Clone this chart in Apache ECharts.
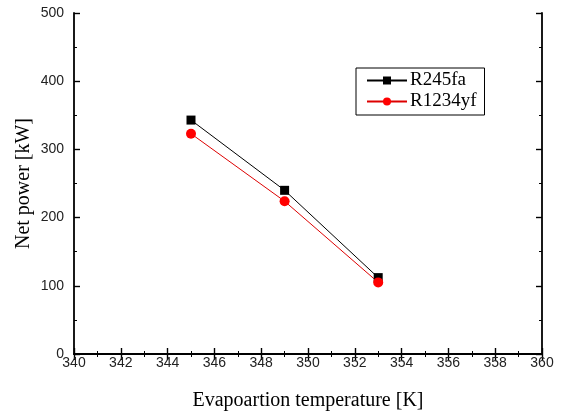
<!DOCTYPE html>
<html><head><meta charset="utf-8">
<script src="https://cdn.jsdelivr.net/npm/echarts@6/dist/echarts.min.js"></script>
<style>html,body{margin:0;padding:0;background:#fff}#c{width:562px;height:414px}</style>
</head><body><div id="c"></div>
<script>
const temps = [345, 349, 353];
const r245fa = [343, 240, 112];
const r1234yf = [323, 224, 105];
const xTicks = [340, 360, 2];
const yTicks = [0, 500, 100];

const chart = echarts.init(document.getElementById('c'), null, {renderer: 'canvas'});
const axisLine = {show: true, lineStyle: {color: '#000', width: 1.8}};
const tickIn = {show: true, inside: true, length: 6, lineStyle: {color: '#000', width: 1.4}};
const minorIn = {show: true, length: 3, splitNumber: 2, lineStyle: {color: '#000', width: 1}};
const lblFont = {fontFamily: 'Liberation Sans, Arial', fontSize: 14, color: '#222'};
const serif = 'Liberation Serif, Times New Roman';
chart.setOption({
  animation: false,
  grid: {left: 74, right: 20, top: 13, bottom: 60, outerBoundsMode: 'none', containLabel: false},
  legend: {
    left: 356, top: 68, orient: 'vertical',
    borderColor: '#000', borderWidth: 1, padding: [3, 8, 4, 10], itemGap: 2,
    itemWidth: 40, itemHeight: 10,
    textStyle: {fontFamily: serif, fontSize: 19, color: '#000', padding: [0, 0, 0, -2]},
    data: ['R245fa', 'R1234yf']
  },
  xAxis: [{
    type: 'value', min: xTicks[0], max: xTicks[1], interval: xTicks[2],
    name: 'Evapoartion temperature [K]', nameLocation: 'middle', nameGap: 37, nameMoveOverlap: false,
    nameTextStyle: {fontFamily: serif, fontSize: 20, color: '#000'},
    axisLine: axisLine, axisTick: tickIn, minorTick: minorIn, splitLine: {show: false},
    axisLabel: Object.assign({margin: 2}, lblFont)
  }, {
    type: 'value', position: 'top', min: xTicks[0], max: xTicks[1], interval: xTicks[2],
    axisLine: axisLine, axisTick: tickIn, minorTick: minorIn, splitLine: {show: false},
    axisLabel: {show: false}
  }],
  yAxis: [{
    type: 'value', min: yTicks[0], max: yTicks[1], interval: yTicks[2],
    name: 'Net power [kW]', nameLocation: 'middle', nameGap: 40, nameMoveOverlap: false,
    nameTextStyle: {fontFamily: serif, fontSize: 20, color: '#000'},
    axisLine: axisLine, axisTick: tickIn, minorTick: minorIn, splitLine: {show: false},
    axisLabel: Object.assign({margin: 10}, lblFont)
  }, {
    type: 'value', position: 'right', min: yTicks[0], max: yTicks[1], interval: yTicks[2],
    axisLine: axisLine, axisTick: tickIn, minorTick: minorIn, splitLine: {show: false},
    axisLabel: {show: false}
  }],
  series: [{
    name: 'R245fa', type: 'line', data: temps.map((t, i) => [t, r245fa[i]]),
    symbol: 'rect', symbolSize: 9, itemStyle: {color: '#000'},
    lineStyle: {color: '#000', width: 1}
  }, {
    name: 'R1234yf', type: 'line', data: temps.map((t, i) => [t, r1234yf[i]]),
    symbol: 'circle', symbolSize: 10, itemStyle: {color: '#f00'},
    lineStyle: {color: '#d00', width: 1}
  }]
});
</script></body></html>
